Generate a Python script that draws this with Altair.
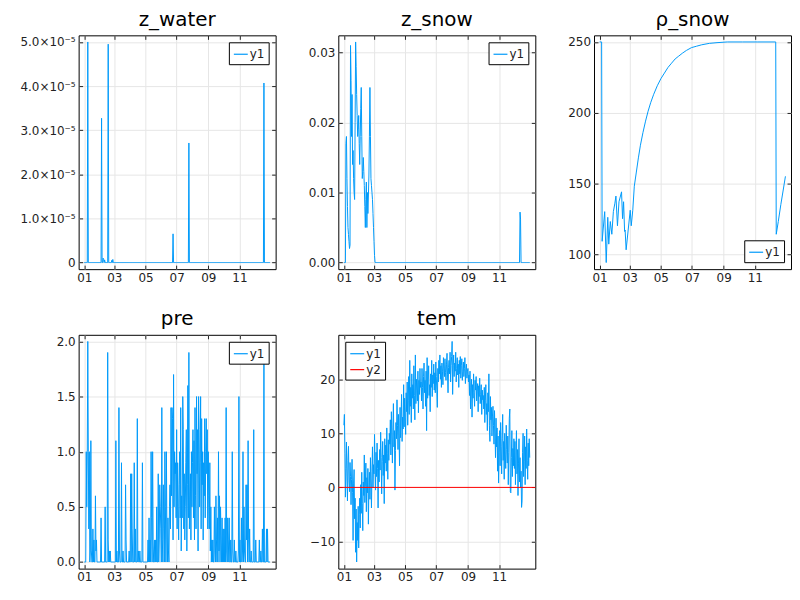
import json
import altair as alt
import pandas as pd

BLUE = "#009AFA"
RED = "#FF0000"
FONT = "DejaVu Sans"

# ---- tick labels ----
month_tick_days = [0, 59, 120, 181, 243, 304]
month_tick_labels = ["01", "03", "05", "07", "09", "11"]

# ---- tem (daily) ----
tem_jan = [11.5, 13.5, 6.2, -1.8, 3.5, 8.4, 2.1, -2.5, 5.0, 7.6, 1.2, -0.8, 4.6, 2.0, -3.2, 1.5, 5.2, -1.0, -9.8, 0.8,
           3.3, -5.8, -2.0, -12.0, -4.0, -13.8, -6.5, -9.8, -3.5, -11.2, -5.0]
tem_feb = [-2.0, -7.5, 0.5, -4.8, 2.8, -3.0, -8.0, 1.0, -1.5, 6.0, -2.8, 0.2, 4.5, -4.5, 1.8, -1.0, 3.5, -6.8, 0.5, 2.8,
           -2.2, 5.5, 1.0, -3.8, 3.0, 7.5, 0.0, 4.2]
tem_mar = [2.5, 9.8, 4.0, -0.5, 6.5, 2.0, 8.2, 3.5, -3.8, 5.0, 1.0, 7.0, 3.2, 10.2, 5.5, -1.2, 4.8, 8.5, 2.2, 6.0,
           -3.0, 9.0, 4.5, 7.8, 3.0, 11.0, 6.2, 1.5, 8.8, 5.0, 10.0]
tem_apr = [8.0, 12.5, 6.0, 14.0, 9.5, 4.5, 11.0, 15.5, 7.5, 10.5, -0.5, 6.8, 12.0, 9.0, 16.2, 11.5, 7.0, 13.5, 10.0, 4.0,
           14.8, 9.2, 12.8, 17.2, 8.5, 13.0, 10.8, 19.0, 11.2, 16.5]
tem_may = [13.0, 9.8, 17.5, 14.0, 19.5, 11.5, 16.0, 20.5, 13.5, 23.5, 15.0, 18.5, 12.0, 21.0, 16.5, 19.0, 14.5, 22.5, 17.0, 12.5,
           24.5, 15.5, 20.0, 18.0, 16.0, 21.5, 13.8, 19.8, 17.2, 22.0, 18.5]
tem_jun = [19.5, 16.0, 22.0, 18.5, 14.5, 20.5, 23.0, 17.5, 19.8, 15.0, 21.5, 10.5, 24.0, 16.5, 20.0, 22.5, 17.0, 19.0, 14.0, 21.0,
           18.5, 23.5, 16.8, 20.8, 19.2, 22.8, 18.0, 21.2, 17.5, 23.2]
tem_jul = [20.5, 18.0, 14.8, 22.0, 19.5, 23.5, 21.0, 24.5, 20.0, 22.5, 18.5, 23.0, 21.5, 19.0, 24.0, 22.0, 20.5, 23.8, 21.2, 19.8,
           22.8, 24.8, 20.8, 17.5, 22.2, 23.5, 21.0, 25.0, 19.5, 22.5, 24.2]
tem_aug = [27.0, 17.2, 22.5, 24.5, 20.5, 23.0, 21.5, 25.0, 19.5, 22.0, 24.0, 20.8, 22.8, 18.5, 23.5, 21.0, 24.2, 20.2, 22.5, 23.8,
           19.8, 21.5, 23.2, 20.5, 22.0, 24.0, 19.2, 21.8, 22.8, 20.2, 21.5]
tem_sep = [22.0, 19.5, 20.8, 17.0, 21.5, 14.5, 18.5, 20.0, 13.0, 19.0, 16.5, 21.0, 17.5, 15.0, 19.8, 18.0, 20.5, 16.0, 17.8, 19.2,
           14.0, 18.8, 16.8, 20.2, 15.5, 17.2, 19.0, 13.5, 18.0, 16.2]
tem_oct = [17.0, 14.5, 18.5, 12.0, 16.0, 19.0, 13.5, 15.5, 10.5, 17.5, 14.0, 21.0, 11.5, 8.5, 16.8, 12.5, 14.8, 9.5, 13.2, 15.0,
           11.5, 8.0, 14.2, 10.0, 5.5, 12.8, 7.5, 11.0, 3.0, 9.5, 0.8]
tem_nov = [6.5, 10.5, 4.0, 12.0, 7.5, 2.5, 9.0, 13.5, 5.0, 8.5, 1.5, 10.0, 6.0, 3.5, 11.5, 7.0, 4.5, 9.5, 0.5, 6.5,
           12.8, 14.5, -0.8, -1.0, 5.5, 10.5, 2.0, 7.2, 4.0, 9.0]
tem_dec = [3.5, 8.5, 0.5, 6.0, 10.5, 2.5, 7.0, -1.5, 4.5, 9.0, 1.0, 5.5, 0.0, 3.0, -3.7, -2.5, 6.5, 10.0, 2.0, 4.8,
           9.5, 0.5, 7.5, 3.5, 10.8, 5.0, 1.5, 8.2, 4.0, 9.0, 5.5]
tem_zero_line = [0]

# ---- pre (daily) ----
pre_jan = [0, 0, 0, 0, 1.0, 0.5, 1.0, 2.0, 1.0, 0.3, 1.0, 0, 0.1, 1.1, 0.1, 0, 0, 0.3, 0, 0.2, 0, 0, 0.6, 0.1, 0.2, 0, 0, 0, 0, 0, 0]
pre_feb = [0, 0, 0.4, 0, 0, 0, 0, 0, 0, 0, 0.5, 0, 0, 0, 0, 1.9, 0.2, 0, 0.1, 0, 0.1, 0, 0, 0, 0, 0, 0, 0]
pre_mar = [0, 0, 0, 1.1, 0, 0.1, 0, 0, 0, 1.4, 0.1, 0, 0, 0, 0.9, 0, 0, 0.1, 0, 0, 0, 0, 0.7, 0.2, 0, 0, 0, 0, 0, 0.1, 0]
pre_apr = [0, 0.8, 0, 0.8, 0.3, 0, 0, 0, 0.9, 0, 0.3, 0, 0, 0, 1.3, 0, 0.1, 0, 0, 0.1, 0, 0, 0, 0, 0.9, 0, 0, 0, 0, 0]
pre_may = [0, 0, 0, 0, 0, 0.2, 0, 0.4, 0, 0.2, 0, 1.0, 0.4, 0, 1.0, 0.2, 0, 0, 0.2, 0, 0.2, 0, 0.5, 0, 0, 0.8, 0, 0.2, 0.7, 0.5, 0.3]
pre_jun = [0, 1.4, 0.2, 0, 0.7, 0.3, 0, 1.0, 0.5, 0, 1.0, 0.2, 0, 0.4, 0.1, 0, 0.5, 0.7, 0.3, 1.4, 0.6, 1.4, 1.3, 0.2, 1.7, 0.5,
           1.0, 0.8, 0.9, 0.4]
pre_jul = [1.2, 0.3, 0.9, 0.5, 0.2, 0.7, 1.0, 0.4, 1.4, 0.1, 0.6, 0.4, 1.5, 1.2, 0.3, 0.8, 0.2, 0.5, 0.9, 1.2, 0.1, 0.7, 1.6,
           0.4, 1.9, 0.3, 0.6, 0.8, 0.2, 1.0, 0.5]
pre_aug = [0.9, 1.2, 0.4, 1.1, 0.2, 1.4, 0.6, 0.3, 1.5, 0.8, 1.2, 0.1, 1.5, 1.2, 0.5, 0.9, 1.5, 0.3, 1.3, 0.7, 1.0, 0.2, 0.9,
           0.6, 1.3, 0.4, 1.0, 1.3, 0.8, 1.2, 0.3]
pre_sep = [1.0, 0.6, 0.3, 0.9, 0.1, 0.5, 0, 0.2, 0, 0.2, 0, 0, 0.5, 0.1, 0, 0.6, 0.2, 0, 0.4, 0, 1.0, 0.1, 0.6, 0, 0.5, 0.2,
           0, 0.4, 0, 0.3]
pre_oct = [0, 0.3, 0, 0.4, 0, 1.4, 0.1, 0, 0.4, 0, 0.2, 0.4, 0, 0, 0.2, 0, 0, 1.0, 0.1, 0, 0, 0.2, 0, 0, 0.1, 0, 0, 0, 0, 0.1, 1.5]
pre_nov = [0, 0.2, 0, 0, 0.4, 0, 0.1, 1.0, 0, 0.5, 0.1, 0, 0, 0.7, 0.2, 0.7, 0, 1.1, 0.2, 0, 0.3, 0, 0, 0.1, 0, 0, 0, 0, 1.2, 0]
pre_dec = [0, 0, 0.2, 0, 0, 0, 0, 0, 0, 0.2, 0, 0, 0.1, 0, 0, 0.3, 0, 0, 1.8, 0, 0, 0, 0, 0.3, 0, 0.3, 0, 0, 0, 0, 0]

# ---- z_water (zero except on these days) ----
z_water_event_days = [7, 34, 37, 38, 40, 47, 54, 56, 174, 205, 352]
z_water_event_vals = [5.0e-5, 3.27e-5, 0.1e-5, 0.07e-5, 0.06e-5, 4.95e-5, 0.05e-5, 0.07e-5, 0.65e-5, 2.71e-5, 4.07e-5]

# ---- z_snow (Jan-Feb daily, then zero except late events) ----
z_snow_early = [0, 0, 0, 0, 0.017, 0.018, 0.012, 0.008, 0.005, 0.004,
                0.003, 0.002, 0.0025, 0.031, 0.026, 0.018, 0.024, 0.014, 0.016, 0.012,
                0.010, 0.009, 0.020, 0.0315, 0.028, 0.024, 0.021, 0.018, 0.019, 0.021,
                0.017, 0.014, 0.018, 0.022, 0.025, 0.018, 0.012, 0.013, 0.015, 0.013,
                0.011, 0.008, 0.005, 0.009, 0.0115, 0.005, 0.010, 0.007, 0.0095, 0.0125,
                0.018, 0.025, 0.018, 0.012, 0.011, 0.010, 0.009, 0.007, 0.005, 0.003,
                0.001, 0.0]
z_snow_late_days = [345, 346]
z_snow_late_vals = [0.0072, 0.0062]

# ---- rho_snow ----
rho_days = [0, 4, 5, 10, 13, 16, 18, 21, 24, 27, 30, 32, 35, 38, 43, 45, 47, 49, 50, 52,
            56, 60, 62, 65, 68, 72, 76, 80, 85, 90, 95, 100, 106, 113, 120, 127, 134, 141, 148, 155,
            162, 170, 180, 190, 200, 215, 230, 250, 280, 310, 345, 346, 350, 355, 360, 364]
rho_vals = [250, 250, 109, 130, 94, 126, 107, 123, 114, 130, 136, 141, 120, 137, 144, 125, 137, 116, 117, 103,
            117, 131, 120, 131, 148, 158, 168, 177, 186, 194, 201, 207, 213, 219, 224, 228, 232, 235, 238, 240,
            242, 244, 246, 247, 248, 249, 249.5, 250, 250, 250, 250, 114, 123, 135, 146, 155]

# ---------------- build tables ----------------
tem = tem_jan + tem_feb + tem_mar + tem_apr + tem_may + tem_jun + tem_jul + tem_aug + tem_sep + tem_oct + tem_nov + tem_dec
pre = pre_jan + pre_feb + pre_mar + pre_apr + pre_may + pre_jun + pre_jul + pre_aug + pre_sep + pre_oct + pre_nov + pre_dec
n_days = len(tem)
days = list(range(n_days))

z_water = [0.0] * n_days
for d, v in zip(z_water_event_days, z_water_event_vals):
    z_water[d] = v
z_snow = z_snow_early + [0.0] * (n_days - len(z_snow_early))
for d, v in zip(z_snow_late_days, z_snow_late_vals):
    z_snow[d] = v


def frame(day_list, vals, series="y1"):
    return pd.DataFrame({"day": day_list, "value": vals, "series": series})


def widen(lo, hi, f=0.03):
    r = hi - lo
    return [lo - f * r, hi + f * r]


xdom = widen(0, n_days - 1)
xlabel_expr = f"{json.dumps(month_tick_labels)}[indexof({json.dumps(month_tick_days)}, datum.value)]"

W, H = 198, 235
TICK = 4


def panel(df, title, yvals, ylabel_expr, legend_orient, y_extent, series_dom=("y1",), series_rng=(BLUE,),
          hline_df=None):
    vals = df["value"]
    ydom = widen(vals.min(), vals.max())
    xs = alt.Scale(domain=xdom, nice=False, zero=False)
    ys = alt.Scale(domain=ydom, nice=False, zero=False)
    color = alt.Color(
        "series:N",
        scale=alt.Scale(domain=list(series_dom), range=list(series_rng)),
        legend=alt.Legend(title=None, orient=legend_orient, offset=7, fillColor="white",
                          strokeColor="black", padding=4, symbolType="stroke", symbolSize=196,
                          symbolStrokeWidth=1.2, labelFontSize=12, labelFont=FONT, labelColor="#222",
                          labelOffset=1, rowPadding=2, cornerRadius=0),
    )
    line = alt.Chart(df).mark_line(strokeWidth=1).encode(
        x=alt.X("day:Q", scale=xs,
                axis=alt.Axis(values=month_tick_days, labelExpr=xlabel_expr, title=None, grid=True,
                              domain=False, tickSize=TICK, offset=-TICK, labelPadding=3,
                              minExtent=22, maxExtent=22)),
        y=alt.Y("value:Q", scale=ys,
                axis=alt.Axis(values=yvals, labelExpr=ylabel_expr, title=None, grid=True,
                              domain=False, tickSize=TICK, offset=-TICK, labelPadding=3.5,
                              minExtent=y_extent + TICK, maxExtent=y_extent + TICK)),
        color=color,
    )
    layers = [line]
    if hline_df is not None:
        layers.append(alt.Chart(hline_df).mark_rule(strokeWidth=1).encode(
            y=alt.Y("value:Q", scale=ys, axis=None), color=color))
    mirror = alt.Chart(df).mark_line(opacity=0).encode(
        x=alt.X("day:Q", scale=xs,
                axis=alt.Axis(orient="top", values=month_tick_days, labels=False, grid=False, domain=False,
                              tickSize=TICK, offset=-TICK, title=None, minExtent=0, maxExtent=0)),
        y=alt.Y("value:Q", scale=ys,
                axis=alt.Axis(orient="right", values=yvals, labels=False, grid=False, domain=False,
                              tickSize=TICK, offset=-TICK, title=None, minExtent=0, maxExtent=0)),
    )
    layers.append(mirror)
    return alt.layer(*layers).resolve_axis(x="independent", y="independent").properties(
        width=W, height=H, title=title)


p1 = panel(frame(days, z_water), "z_water", [0, 1e-5, 2e-5, 3e-5, 4e-5, 5e-5],
           "datum.value == 0 ? '0' : format(datum.value * 100000, '.1f') + '×10⁻⁵'", "top-right", 70)
p2 = panel(frame(days, z_snow), "z_snow", [0, 0.01, 0.02, 0.03], "format(datum.value, '.2f')", "top-right", 41)
p3 = panel(frame(rho_days, rho_vals), "ρ_snow", [100, 150, 200, 250], "format(datum.value, 'd')",
           "bottom-right", 37)
p4 = panel(frame(days, pre), "pre", [0, 0.5, 1.0, 1.5, 2.0], "format(datum.value, '.1f')", "top-right", 70)
p5 = panel(frame(days, tem), "tem", [-10, 0, 10, 20], "format(datum.value, 'd')", "top-left", 41,
           series_dom=("y1", "y2"), series_rng=(BLUE, RED),
           hline_df=pd.DataFrame({"value": tem_zero_line, "series": "y2"}))

res = dict(x="independent", y="independent", color="independent")
top = alt.hconcat(p1, p2, p3, spacing=20).resolve_scale(**res)
bottom = alt.hconcat(p4, p5, spacing=20).resolve_scale(**res)
chart = alt.vconcat(top, bottom, spacing=21).resolve_scale(**res).properties(
    padding={"left": 0, "top": 0, "right": 0, "bottom": 0}
).configure_view(
    stroke="black", strokeWidth=1
).configure_axis(
    labelFont=FONT, labelFontSize=12, labelColor="#222", gridColor="#e6e6e6", gridWidth=1,
    tickColor="#222", tickWidth=1
).configure_title(
    font=FONT, fontSize=20, fontWeight="normal", color="black", anchor="middle", offset=5
)

chart.save("out.html", embed_options={"renderer": "svg", "actions": False})
